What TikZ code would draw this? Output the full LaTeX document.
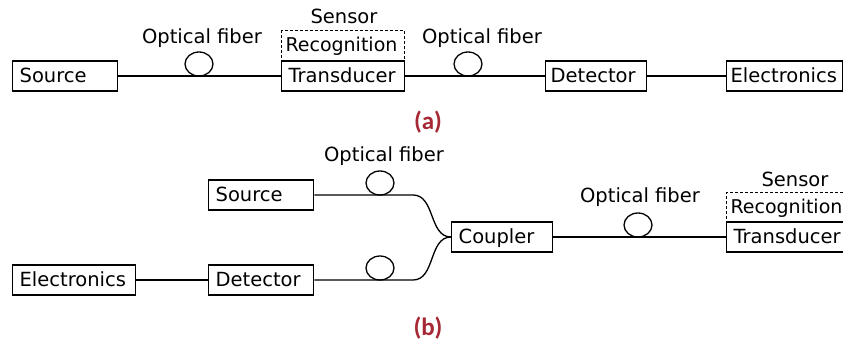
\documentclass[tikz,border=0pt]{standalone}
\usepackage{fontspec}
\setmainfont{DejaVu Sans}
\newfontfamily\tagfont{Carlito}
\usepackage{tikz}
\usetikzlibrary{shapes.geometric}
\definecolor{tagred}{RGB}{165,40,52}
\tikzset{
  block/.style={
    rectangle, draw=black, line width=1.3pt,
    anchor=west, minimum height=30pt,
    inner xsep=7pt, inner ysep=0pt,
    text width=#1, align=left,
    text height=13pt, text depth=1pt,
    font=\fontsize{19.5}{22}\selectfont
  },
  recog/.style={
    block=#1, inner xsep=4pt, font=\fontsize{19}{22}\selectfont,
    dashed, dash pattern=on 3pt off 2pt, line width=1pt
  },
  coil/.style={
    ellipse, draw=black, line width=1.3pt,
    minimum width=28pt, minimum height=24pt, inner sep=0pt
  },
  fiber/.style={draw=black, line width=1.3pt},
  lbl/.style={anchor=base, inner sep=0pt, font=\fontsize{19.5}{22}\selectfont},
  tag/.style={
    anchor=base, inner sep=0pt, text=tagred,
    font=\tagfont\bfseries\fontsize{25}{28}\selectfont
  }
}

\begin{document}
\begin{tikzpicture}[x=1pt, y=-1pt]
  \useasboundingbox (0,0) rectangle (843,345);

  % (a) in-line sensor
  \node[block=91pt] (srcA) at (12,76) {Source};
  \node[recog=115pt] (recA) at (281,46) {Recognition};
  \node[block=109pt] (trA) at (281,76) {Transducer};
  \node[block=91pt, inner xsep=5pt] (detA) at (545,76) {Detector};
  \node[block=108pt, inner xsep=4pt] (elA) at (726,76) {Electronics};
  \draw[fiber] (srcA) -- (trA);
  \draw[fiber] (trA) -- (detA);
  \draw[fiber] (detA) -- (elA);
  \node[coil] (coilA1) at (199,64) {};
  \node[coil] (coilA2) at (468,64) {};
  \node[lbl] (fibA1) at (202,44) {Optical fiber};
  \node[lbl] (fibA2) at (482,44) {Optical fiber};
  \node[lbl] (senA) at (344,24) {Sensor};
  \node[tag] (tagA) at (428,129) {(a)};

  % (b) reflective sensor with coupler
  \node[block=91pt] (srcB) at (208,195) {Source};
  \node[block=91pt] (detB) at (208,280) {Detector};
  \node[block=109pt] (elB) at (12,280) {Electronics};
  \node[block=87pt] (cpl) at (451,237) {Coupler};
  \node[recog=115pt] (recB) at (726,207) {Recognition};
  \node[block=109pt] (trB) at (726,237) {Transducer};
  \coordinate (bendT) at (413,195);
  \coordinate (bendB) at (413,280);
  \draw[fiber] (srcB) -- (bendT) to[out=0, in=180] (cpl.west);
  \draw[fiber] (detB) -- (bendB) to[out=0, in=180] (cpl.west);
  \draw[fiber] (elB) -- (detB);
  \draw[fiber] (cpl) -- (trB);
  \node[coil] (coilB1) at (380,183) {};
  \node[coil] (coilB2) at (380,268) {};
  \node[coil] (coilB3) at (638,225) {};
  \node[lbl] (fibB1) at (384,161) {Optical fiber};
  \node[lbl] (fibB2) at (640,202) {Optical fiber};
  \node[lbl] (senB) at (795,186) {Sensor};
  \node[tag] (tagB) at (428,335) {(b)};
\end{tikzpicture}
\end{document}
